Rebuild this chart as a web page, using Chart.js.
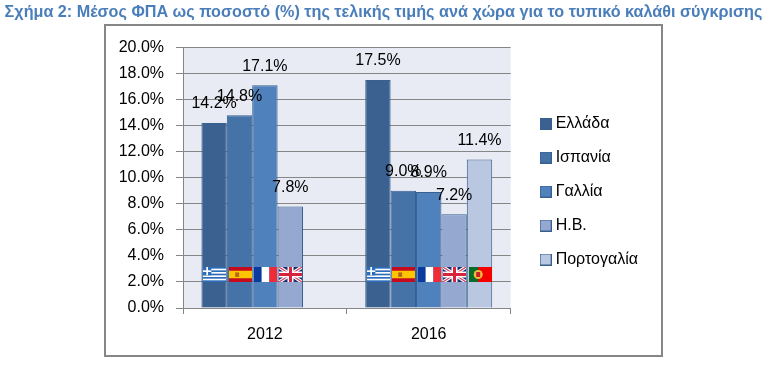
<!DOCTYPE html>
<html>
<head>
<meta charset="utf-8">
<script src="https://cdn.jsdelivr.net/npm/chart.js@4"></script>
<style>
html, body { margin: 0; padding: 0; background: #fff; overflow: hidden; }
#wrap { position: relative; width: 769px; height: 366px; }
#frame { position: absolute; left: 104px; top: 24px; width: 555px; height: 329px; border: 2px solid #868686; }
#chart { position: absolute; left: 0; top: 0; }
</style>
</head>
<body>
<div id="wrap">
<div id="frame"></div>
<canvas id="chart" width="769" height="366"></canvas>
</div>
<script>
const titleText = "Σχήμα 2: Μέσος ΦΠΑ ως ποσοστό (%) της τελικής τιμής ανά χώρα για το τυπικό καλάθι σύγκρισης";
const years = ["2012", "2016"];
const countries = ["Ελλάδα", "Ισπανία", "Γαλλία", "Η.Β.", "Πορτογαλία"];
const greece = [14.2, 17.5];
const spain = [14.8, 9.0];
const france = [17.1, 8.9];
const uk = [7.8, 7.2];
const portugal = [null, 11.4];
const fills = ["#3B6191", "#4572A7", "#4F81BD", "#95A9D0", "#B9C7E0"];
const font = "Liberation Sans, Arial, sans-serif";
const flagLevel = 2.6;

function drawGreece(c, x, y, w, h) {
    const s = h / 9;
    c.fillStyle = "#fff";
    c.fillRect(x, y, w, h);
    c.fillStyle = "#2A6EBB";
    for (let i = 0; i < 9; i += 2) c.fillRect(x, y + i * s, w, s);
    c.fillRect(x, y, s * 5, s * 5);
    c.fillStyle = "#fff";
    c.fillRect(x + s * 2, y, s, s * 5);
    c.fillRect(x, y + s * 2, s * 5, s);
}
function drawSpain(c, x, y, w, h) {
    c.fillStyle = "#C60B1E";
    c.fillRect(x, y, w, h);
    c.fillStyle = "#FFC400";
    c.fillRect(x, y + h / 4, w, h / 2);
    c.fillStyle = "#AD6A1F";
    c.fillRect(x + w * 0.27, y + h * 0.36, w * 0.17, h * 0.3);
}
function drawFrance(c, x, y, w, h) {
    c.fillStyle = "#0A3A9E";
    c.fillRect(x, y, w / 3, h);
    c.fillStyle = "#fff";
    c.fillRect(x + w / 3, y, w / 3, h);
    c.fillStyle = "#EF2B3A";
    c.fillRect(x + 2 * w / 3, y, w / 3, h);
}
function drawUk(c, x, y, w, h) {
    c.save();
    c.beginPath();
    c.rect(x, y, w, h);
    c.clip();
    c.fillStyle = "#1D2F6F";
    c.fillRect(x, y, w, h);
    const diag = (col, lw) => {
        c.strokeStyle = col;
        c.lineWidth = lw;
        c.beginPath();
        c.moveTo(x, y); c.lineTo(x + w, y + h);
        c.moveTo(x + w, y); c.lineTo(x, y + h);
        c.stroke();
    };
    diag("#fff", 3.5);
    diag("#D9405A", 1.2);
    c.fillStyle = "#fff";
    c.fillRect(x + w / 2 - 3, y, 6, h);
    c.fillRect(x, y + h / 2 - 3, w, 6);
    c.fillStyle = "#D9233C";
    c.fillRect(x + w / 2 - 1.5, y, 3, h);
    c.fillRect(x, y + h / 2 - 1.5, w, 3);
    c.restore();
}
function drawPortugal(c, x, y, w, h) {
    c.fillStyle = "#F40000";
    c.fillRect(x, y, w, h);
    c.fillStyle = "#0B6B2C";
    c.fillRect(x, y, w * 0.4, h);
    c.fillStyle = "#E7C33A";
    c.beginPath();
    c.arc(x + w * 0.4, y + h / 2, h * 0.3, 0, Math.PI * 2);
    c.fill();
    c.fillStyle = "#C8202C";
    c.fillRect(x + w * 0.4 - 2, y + h / 2 - 2.5, 4, 5);
}
const flagPainters = [drawGreece, drawSpain, drawFrance, drawUk, drawPortugal];

// small square swatches, so the legend text can sit closer than Chart.js' default gap
const swatches = fills.map(col => {
    const cv = document.createElement("canvas");
    cv.width = 12;
    cv.height = 12;
    const c = cv.getContext("2d");
    c.fillStyle = col;
    c.fillRect(0, 0, 12, 12);
    c.strokeStyle = "#38608F";
    c.strokeRect(0.5, 0.5, 11, 11);
    return cv;
});

const plotBackground = {
    id: "plotBackground",
    afterLayout(chart) {
        // title spans the whole page, legend sits lower and closer to the plot
        chart.titleBlock.left = 0;
        chart.titleBlock.right = 767;
        chart.legend.top += 19;
        chart.legend.bottom += 19;
        chart.legend.left += 15;
        chart.legend.right += 15;
    },
    beforeDraw(chart) {
        const a = chart.chartArea;
        chart.ctx.fillStyle = "#E8EBF3";
        chart.ctx.fillRect(a.left, a.top, a.width, a.height);
    }
};

const marks = {
    id: "marks",
    afterDatasetsDraw(chart) {
        const c = chart.ctx;
        const yScale = chart.scales.y;
        chart.data.datasets.forEach((ds, i) => {
            chart.getDatasetMeta(i).data.forEach((bar, j) => {
                const v = ds.data[j];
                if (v === null) return;
                const cy = yScale.getPixelForValue(flagLevel);
                flagPainters[i](c, Math.round(bar.x - 11), Math.round(cy - 7.5), 23, 15);
                c.fillStyle = "#000";
                c.font = "16px " + font;
                c.textAlign = "center";
                c.textBaseline = "middle";
                c.fillText(v.toFixed(1) + "%", bar.x, bar.y - 19);
            });
        });
    }
};

new Chart(document.getElementById("chart"), {
    type: "bar",
    data: {
        labels: years,
        datasets: [greece, spain, france, uk, portugal].map((vals, i) => ({
            label: countries[i],
            data: vals,
            backgroundColor: fills[i],
            borderColor: "#38608F",
            borderWidth: 1,
            barPercentage: 1,
            categoryPercentage: 0.775
        }))
    },
    plugins: [plotBackground, marks],
    options: {
        responsive: false,
        animation: false,
        layout: { padding: { left: 0, right: 136, top: 0, bottom: 21 } },
        plugins: {
            tooltip: { enabled: false },
            title: {
                display: true,
                text: titleText,
                color: "#4A7EBB",
                font: { family: font, size: 16.2, weight: "bold" },
                padding: { top: 3, bottom: 25 }
            },
            legend: {
                position: "right",
                labels: {
                    color: "#000",
                    font: { family: font, size: 16 },
                    usePointStyle: true,
                    pointStyleWidth: 4,
                    boxHeight: 12,
                    padding: 18,
                    generateLabels(chart) {
                        return Chart.defaults.plugins.legend.labels.generateLabels(chart)
                            .map((item, i) => ({ ...item, pointStyle: swatches[i] }));
                    }
                }
            }
        },
        scales: {
            x: {
                grid: { drawOnChartArea: false, color: "#868686", tickLength: 6 },
                border: { color: "#868686" },
                ticks: { color: "#000", font: { family: font, size: 16 }, padding: 11 },
                afterFit(s) { s.height = 37; }
            },
            y: {
                min: 0,
                max: 20,
                grid: { color: "#868686", tickLength: 7 },
                border: { color: "#868686" },
                ticks: {
                    stepSize: 2,
                    color: "#000",
                    padding: 12,
                    font: { family: font, size: 16 },
                    callback: v => v.toFixed(1) + "%"
                },
                afterFit(s) { s.width = 183; }
            }
        }
    }
});
</script>
</body>
</html>
